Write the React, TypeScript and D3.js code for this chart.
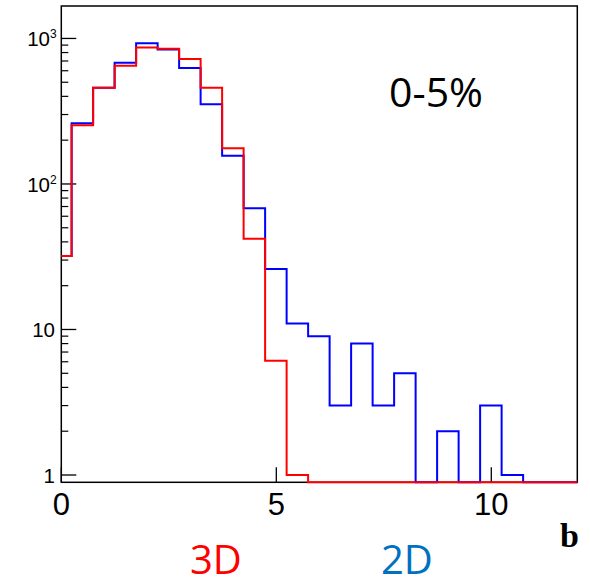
import React from "react";
import * as d3 from "d3";

// Histogram bin lower edges (bin width 0.5), last value is the upper edge of the final bin
const binEdges = [
  -0.26, 0.24, 0.74, 1.24, 1.74, 2.24, 2.74, 3.24, 3.74, 4.24, 4.74, 5.24, 5.74,
  6.24, 6.74, 7.24, 7.74, 8.24, 8.74, 9.24, 9.74, 10.24, 10.74, 11.24, 11.74, 12.24,
];
const values2D = [32, 261, 459, 682, 927, 838, 627, 353, 156, 68, 26, 11, 9, 3, 8, 3, 5, 0, 2, 0, 3, 1, 0, 0, 0];
const values3D = [32, 253, 459, 650, 865, 851, 723, 459, 176, 42, 6.1, 1, 0, 0, 0, 0, 0, 0, 0, 0, 0, 0, 0, 0, 0];

const xTicks = [0, 5, 10];
const yMajorTicks = [1, 10, 100, 1000];
const yTickLabels = [
  { base: "1", exp: "" },
  { base: "10", exp: "" },
  { base: "10", exp: "2" },
  { base: "10", exp: "3" },
];
const xDomain = [0, 12];
const yDomain = [0.891, 1671];
const legendLabels = ["3D", "2D"];
const annotation = "0-5%";
const xTitle = "b";

const W = 590;
const H = 581;
const left = 61.3;
const right = 577.3;
const top = 6;
const bottom = 482.3;

export default function App() {
  const x = d3.scaleLinear().domain(xDomain).range([left, right]);
  const y = d3.scaleLog().domain(yDomain).range([bottom, top]);

  const stepPath = (vals: number[]) => {
    const pts: [number, number][] = [];
    for (let i = 0; i < vals.length; i++) {
      const x0 = Math.max(binEdges[i], xDomain[0]);
      const x1 = Math.min(binEdges[i + 1], xDomain[1]);
      if (x1 <= x0) continue;
      const yy = vals[i] > 0 ? y(vals[i]) : bottom;
      pts.push([x(x0), yy]);
      pts.push([x(x1), yy]);
    }
    return d3.line()(pts) || "";
  };

  const minorTicks: number[] = [];
  [1, 10, 100, 1000].forEach((d) => {
    for (let k = 2; k <= 9; k++) {
      const v = d * k;
      if (v < yDomain[1]) minorTicks.push(v);
    }
  });

  const sans = "'Liberation Sans', Arial, Helvetica, sans-serif";

  return (
    <svg
      width={W}
      height={H}
      style={{ position: "absolute", left: 0, top: 0, background: "#fff" }}
    >
      <rect x={0} y={0} width={W} height={H} fill="#fff" />
      {/* frame */}
      <rect
        x={left}
        y={top}
        width={right - left}
        height={bottom - top}
        fill="none"
        stroke="#000"
        strokeWidth={1.5}
      />
      {/* y ticks */}
      {yMajorTicks.map((t) => (
        <line key={"ym" + t} x1={left} x2={left + 15} y1={y(t)} y2={y(t)} stroke="#000" strokeWidth={1.3} />
      ))}
      {minorTicks.map((t) => (
        <line key={"yn" + t} x1={left} x2={left + 7} y1={y(t)} y2={y(t)} stroke="#000" strokeWidth={1.2} />
      ))}
      {yMajorTicks.map((t, i) => (
        <text
          key={"yl" + t}
          x={yTickLabels[i].exp ? 50 : 55}
          y={y(t) + 8}
          textAnchor="end"
          fontFamily={sans}
          fontSize={20.5}
          fill="#000"
        >
          {yTickLabels[i].base}
        </text>
      ))}
      {yMajorTicks.map((t, i) =>
        yTickLabels[i].exp ? (
          <text key={"ye" + t} x={50} y={y(t) + 0} fontFamily={sans} fontSize={12} fill="#000">
            {yTickLabels[i].exp}
          </text>
        ) : null
      )}
      {/* x ticks */}
      {xTicks.map((t) => (
        <line key={"xt" + t} x1={x(t)} x2={x(t)} y1={bottom} y2={bottom - 15} stroke="#000" strokeWidth={1.3} />
      ))}
      {xTicks.map((t) => (
        <text
          key={"xl" + t}
          x={x(t)}
          y={514.5}
          textAnchor="middle"
          fontFamily={sans}
          fontSize={31}
          fill="#000"
        >
          {t}
        </text>
      ))}
      {/* histograms */}
      <path d={stepPath(values2D)} fill="none" stroke="#0000ff" strokeWidth={2} />
      <path d={stepPath(values3D)} fill="none" stroke="#ff0000" strokeWidth={2} />
      {/* annotation */}
      <text x={389} y={106.5} fontFamily="'Open Sans', sans-serif" fontSize={41} fill="#000">
        {annotation}
      </text>
      {/* axis title */}
      <text
        x={560}
        y={546.5}
        fontFamily="'Liberation Serif', 'Times New Roman', serif"
        fontWeight="bold"
        fontSize={34}
        fill="#000"
      >
        {xTitle}
      </text>
      {/* legend */}
      <text x={190} y={574} fontFamily="'Open Sans', sans-serif" fontSize={40} fill="#ff0000">
        {legendLabels[0]}
      </text>
      <text x={381} y={574} fontFamily="'Open Sans', sans-serif" fontSize={40} fill="#0070c0">
        {legendLabels[1]}
      </text>
    </svg>
  );
}
